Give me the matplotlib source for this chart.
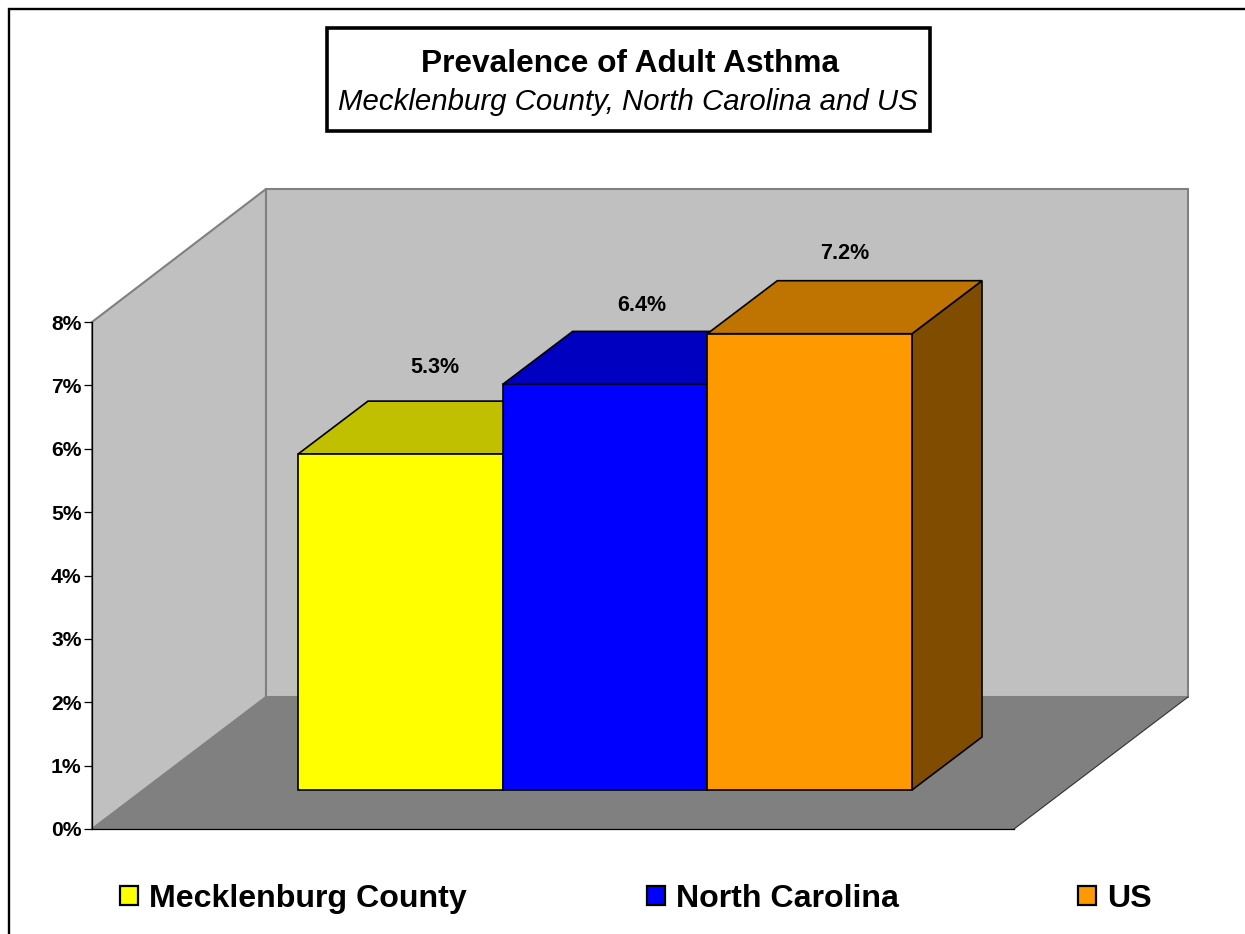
import matplotlib
matplotlib.use("Agg")
import matplotlib.pyplot as plt
from matplotlib.lines import Line2D
from matplotlib.patches import Patch, Polygon, Rectangle

plt.rcParams['font.family'] = ['Liberation Sans', 'DejaVu Sans']

categories = ['Mecklenburg County', 'North Carolina', 'US']
values = [5.3, 6.4, 7.2]
value_labels = ['5.3%', '6.4%', '7.2%']
front_colors = ['#FFFF00', '#0000FF', '#FF9900']
top_colors = ['#C0C000', '#0000C0', '#BF7300']
side_colors = ['#808000', '#000080', '#804D00']
y_ticks = [0, 1, 2, 3, 4, 5, 6, 7, 8]

W, H = 1245, 934
fig = plt.figure(figsize=(W / 100, H / 100), dpi=100)


def fx(px):
    return px / W


def fy(py):
    return 1 - py / H


# axes = front plane of the chart, pixel box from the picture
ax = fig.add_axes([fx(92), fy(829), fx(1014 - 92), (829 - 322) / H])
x_unit = 204.67  # px per category
y_unit = 507 / 8  # px per percent
ax.set_xlim(-0.5 - 206 / x_unit, -0.5 + 716 / x_unit)
ax.set_ylim(0, 8)
ax.patch.set_visible(False)


def dx(px):
    return px / x_unit


def dy(px):
    return px / y_unit


def poly(pts, fc, ec, lw, z):
    ax.add_patch(Polygon(pts, closed=True, facecolor=fc, edgecolor=ec, linewidth=lw,
                         joinstyle='miter', clip_on=False, zorder=z))


x0, x1 = ax.get_xlim()
ddx, ddy = dx(174), dy(132)  # floor depth
top = 8 + dy(1)

# walls and floor
poly([(x0, 0), (x0 + ddx, ddy), (x0 + ddx, top + ddy), (x0, 8)], '#C0C0C0', '#808080', 1.5, 1)
poly([(x0 + ddx, ddy), (x1 + ddx, ddy), (x1 + ddx, top + ddy), (x0 + ddx, top + ddy)],
     '#C0C0C0', '#808080', 1.5, 1)
poly([(x0, 0), (x1, 0), (x1 + ddx, ddy), (x0 + ddx, ddy)], '#808080', 'none', 0, 2)
ax.add_line(Line2D([x1, x1 + ddx], [0, ddy], color='#303030', lw=0.8, zorder=2, clip_on=False))

# bars
bar_dx, bar_dy = dx(70), dy(53)
base = dy(39)
label_dx = [35, 37, 35]
label_dy = [34, 26, 27]
for i, v in enumerate(values):
    l, r = i - 0.5, i + 0.5
    t = base + v
    z = 3 + i
    poly([(r, base), (r + bar_dx, base + bar_dy), (r + bar_dx, t + bar_dy), (r, t)],
         side_colors[i], 'black', 1.2, z)
    poly([(l, t), (r, t), (r + bar_dx, t + bar_dy), (l + bar_dx, t + bar_dy)],
         top_colors[i], 'black', 1.2, z)
    poly([(l, base), (r, base), (r, t), (l, t)], front_colors[i], 'black', 1.2, z)
    ax.text(i + dx(label_dx[i]), t + bar_dy + dy(label_dy[i]), value_labels[i], ha='center',
            va='center', fontsize=15.5, fontweight='bold', color='black', zorder=8)

# axis
ax.set_xticks([])
ax.set_yticks(y_ticks)
ax.set_yticklabels([f'{t}%' for t in y_ticks], fontsize=15.2, fontweight='bold')
ax.tick_params(axis='y', length=5.5, width=0.9, pad=2)
ax.spines['top'].set_visible(False)
ax.spines['right'].set_visible(False)
ax.spines['left'].set_linewidth(0.9)
ax.spines['bottom'].set_linewidth(0.9)
ax.spines['left'].set_zorder(2.5)
ax.spines['bottom'].set_zorder(2.5)

# outer frame, only left and top are inside the picture
fig.add_artist(Line2D([fx(8.5), fx(8.5), 1], [0, fy(9), fy(9)], color='black', lw=1.7,
                      solid_joinstyle='miter'))

# title box
fig.add_artist(Rectangle((fx(327), fy(131)), fx(930 - 327), (131 - 28) / H, facecolor='white',
                         edgecolor='black', linewidth=2.6, joinstyle='miter'))
fig.text(fx(630.5), fy(63.5), 'Prevalence of Adult Asthma', ha='center', va='center',
         fontsize=22.8, fontweight='bold')
fig.text(fx(628), fy(102), 'Mecklenburg County, North Carolina and US', ha='center', va='center',
         fontsize=21.2, fontstyle='italic')

# legend
handles = [Patch(facecolor=c, edgecolor='black', linewidth=1.6) for c in front_colors]
fs = 23.1
fig.legend(handles, categories, ncol=3, loc='center', bbox_to_anchor=(fx(636), fy(899)),
           frameon=False, prop={'size': fs, 'weight': 'bold'}, handlelength=0.56, handleheight=0.56,
           handletextpad=0.34, columnspacing=5.6, borderpad=0, borderaxespad=0)

fig.savefig('out.png', dpi=100)
